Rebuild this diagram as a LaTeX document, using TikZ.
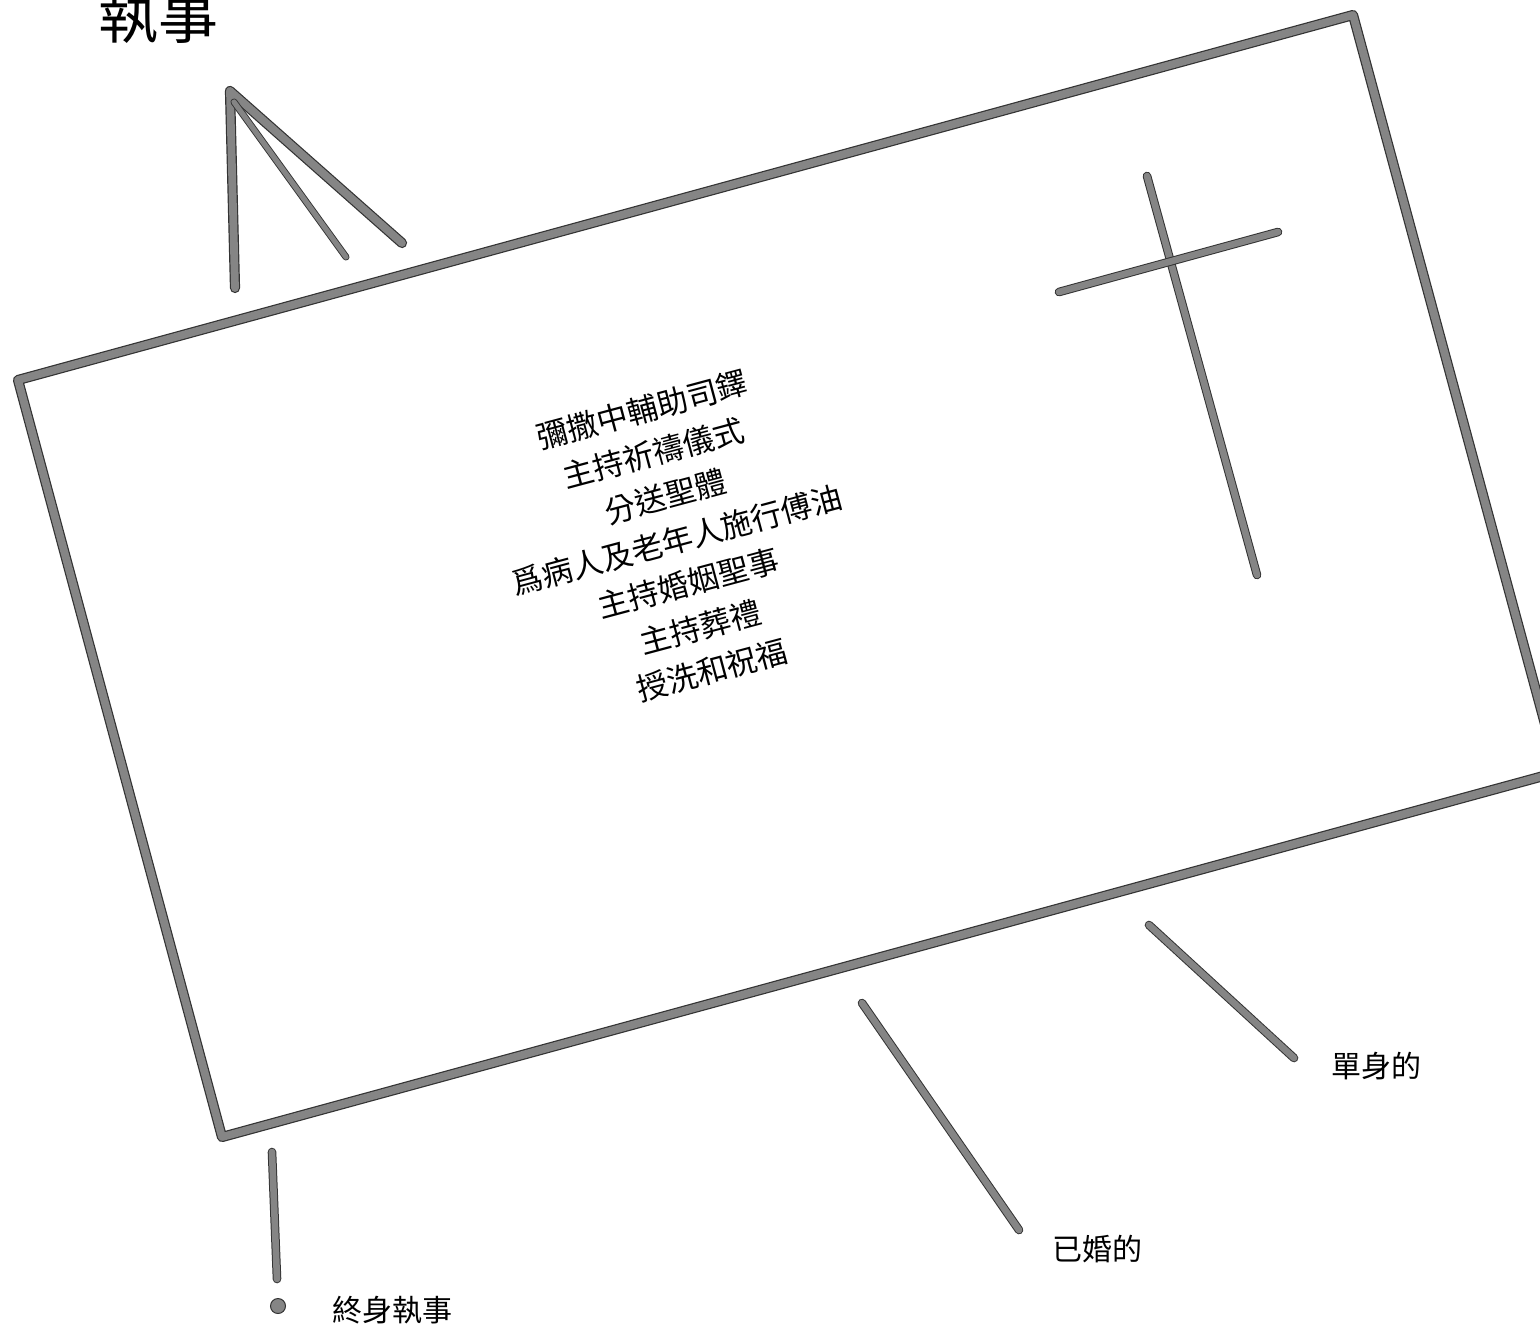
\documentclass[tikz,border=0pt]{standalone}
\usepackage{fontspec}
\newfontfamily\cjk{Noto Sans CJK TC}
\begin{document}
\begin{tikzpicture}[x=0.5pt,y=-0.5pt,
  thickstroke/.style={draw=black!80, double=black!48, line width=0.6pt, double distance=3.9pt, line cap=round, line join=round},
  thinstroke/.style={draw=black!80, double=black!48, line width=0.5pt, double distance=3.3pt, line cap=round, line join=round},
  midstroke/.style={draw=black!80, double=black!48, line width=0.45pt, double distance=2.6pt, line cap=round, line join=round},
  lbl/.style={font=\cjk\fontsize{15}{20}\selectfont, inner sep=0pt}]
\useasboundingbox (0,0) rectangle (1540,1329);
\clip (0,0) rectangle (1540,1329);
% frame
\coordinate (tl) at (18,380);
\coordinate (tr) at (1353,15);
\coordinate (br) at (1558,772);
\coordinate (bl) at (222,1137);
\draw[thickstroke] (tl) -- (tr) -- (br) -- (bl) -- cycle;
% A shape
\coordinate (apex) at (230,91);
\coordinate (lleg) at (235,288);
\coordinate (rleg) at (402,243);
\coordinate (mtop) at (234,102);
\coordinate (mleg) at (346,257);
\draw[thickstroke] (lleg) -- (apex) -- (rleg);
\draw[midstroke] (mtop) -- (mleg);
% cross
\coordinate (cv1) at (1147,176);
\coordinate (cv2) at (1257,575);
\coordinate (ch1) at (1059,292);
\coordinate (ch2) at (1278,232);
\draw[thinstroke] (cv1) -- (cv2);
\draw[thinstroke] (ch1) -- (ch2);
% legs
\coordinate (l1a) at (272,1152);
\coordinate (l1b) at (277,1279);
\coordinate (l2a) at (862,1003);
\coordinate (l2b) at (1019,1230);
\coordinate (l3a) at (1149,925);
\coordinate (l3b) at (1294,1058);
\draw[thinstroke] (l1a) -- (l1b);
\draw[thinstroke] (l2a) -- (l2b);
\draw[thinstroke] (l3a) -- (l3b);
% dot
\node[circle, minimum size=7.5pt, inner sep=0pt, draw=black!80, line width=0.5pt, fill=black!48] (dot) at (278,1306) {};
% texts
\node[font=\cjk\fontsize{30}{36}\selectfont, inner sep=0pt] (title) at (158,16) {執事};
\node[lbl, align=center, rotate=15, font=\cjk\fontsize{15.5}{22.5}\selectfont] (duties) at (677,540)
  {彌撒中輔助司鐸\\主持祈禱儀式\\分送聖體\\爲病人及老年人施行傅油\\主持婚姻聖事\\主持葬禮\\授洗和祝福};
\node[lbl] (perm) at (392,1310) {終身執事};
\node[lbl] (married) at (1097,1249) {已婚的};
\node[lbl] (single) at (1376,1066) {單身的};
\end{tikzpicture}
\end{document}
